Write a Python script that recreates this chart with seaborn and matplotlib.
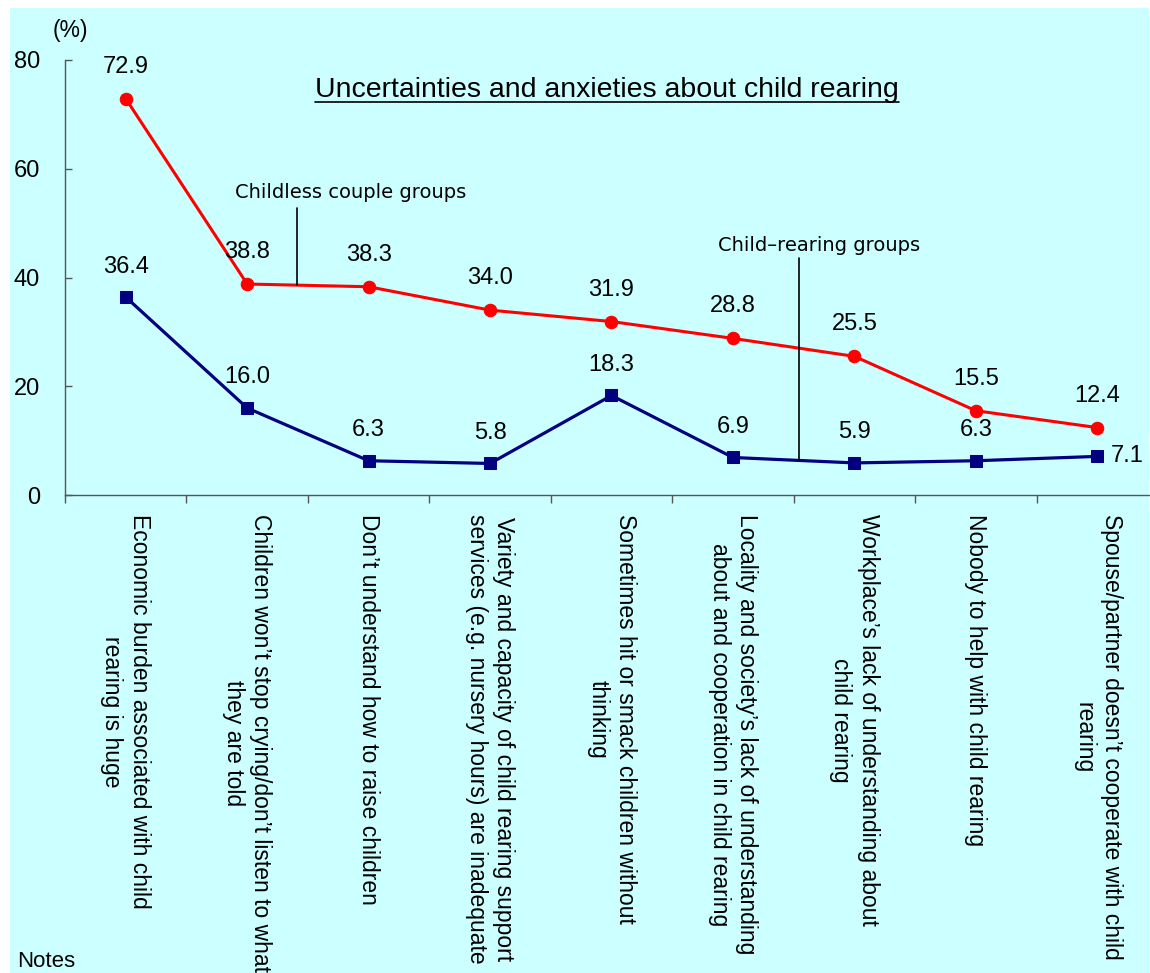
import pandas as pd
import seaborn as sns
import matplotlib.pyplot as plt
from matplotlib.patches import Rectangle
from matplotlib.lines import Line2D
from matplotlib.ticker import FixedLocator

# Data
items = [
    "Economic burden associated with child\nrearing is huge",
    "Children won\u2019t stop crying/don\u2019t listen to what\nthey are told",
    "Don\u2019t understand how to raise children",
    "Variety and capacity of child rearing support\nservices (e.g. nursery hours) are inadequate",
    "Sometimes hit or smack children without\nthinking",
    "Locality and society\u2019s lack of understanding\nabout and cooperation in child rearing",
    "Workplace\u2019s lack of understanding about\nchild rearing",
    "Nobody to help with child rearing",
    "Spouse/partner doesn\u2019t cooperate with child\nrearing",
]
childless = [72.9, 38.8, 38.3, 34.0, 31.9, 28.8, 25.5, 15.5, 12.4]
child_rearing = [36.4, 16.0, 6.3, 5.8, 18.3, 6.9, 5.9, 6.3, 7.1]
y_ticks = [0, 20, 40, 60, 80]

df = pd.DataFrame({"item": items, "childless": childless, "child_rearing": child_rearing})

sns.set_style("white")
plt.rcParams["font.family"] = ["Liberation Sans", "DejaVu Sans"]
plt.rcParams["text.color"] = "black"
plt.rcParams["xtick.color"] = "black"
plt.rcParams["ytick.color"] = "black"

fig = plt.figure(figsize=(11.5, 9.73), dpi=100, facecolor="white")
# cyan chart area
fig.patches.append(Rectangle((10 / 1150, 0), 1139 / 1150, 1 - 8 / 973,
                             transform=fig.transFigure, facecolor="#CCFFFF",
                             edgecolor="none", zorder=-5))

ax = fig.add_axes([65 / 1150, 1 - 495 / 973, 1093 / 1150, 435 / 973])
ax.set_facecolor("none")
ax.set_zorder(2)

sns.lineplot(data=df, x="item", y="childless", color="#FF0000", marker="o",
             markersize=9, markeredgecolor="#FF0000", linewidth=2.2,
             sort=False, legend=False, ax=ax, clip_on=False)
sns.lineplot(data=df, x="item", y="child_rearing", color="#000080", marker="s",
             markersize=8, markeredgecolor="#000080", linewidth=2.3,
             sort=False, legend=False, ax=ax, clip_on=False)

# data labels
for i, v in enumerate(childless):
    ax.annotate(f"{v:.1f}", (i, v), xytext=(0, 23), textcoords="offset points",
                ha="center", va="center", fontsize=17)
for i, v in enumerate(child_rearing):
    if i == len(child_rearing) - 1:
        ax.annotate(f"{v:.1f}", (i, v), xytext=(10, 0), textcoords="offset points",
                    ha="left", va="center", fontsize=17)
    else:
        ax.annotate(f"{v:.1f}", (i, v), xytext=(0, 22), textcoords="offset points",
                    ha="center", va="center", fontsize=17)

ax.set_xlim(-0.5, len(items) - 0.5)
ax.set_ylim(0, 80)
ax.set_yticks(y_ticks)
ax.set_xlabel("")
ax.set_ylabel("")

for s in ["top", "right"]:
    ax.spines[s].set_visible(False)
for s in ["left", "bottom"]:
    ax.spines[s].set_color("#555555")
    ax.spines[s].set_linewidth(1.0)

ax.tick_params(axis="y", direction="in", length=5, width=1, color="#555555",
               labelsize=17, pad=18, left=True)
ax.tick_params(axis="x", which="major", length=0, pad=14)
ax.xaxis.set_minor_locator(FixedLocator([k - 0.5 for k in range(len(items) + 1)]))
ax.tick_params(axis="x", which="minor", direction="out", length=6, width=1,
               color="#555555", bottom=True)
for lab in ax.get_xticklabels():
    lab.set_rotation(270)
    lab.set_ha("center")
    lab.set_va("top")
    lab.set_multialignment("center")
    lab.set_fontsize(16.5)
    lab.set_linespacing(1.25)

# group annotations
ax.plot([1.41, 1.41], [38.6, 52.8], color="black", lw=1.2)
ax.text(1.85, 55.7, "Childless couple groups", ha="center", va="center",
        fontsize=14, family="DejaVu Sans")
ax.plot([5.546, 5.546], [6.4, 43.6], color="black", lw=1.2)
ax.text(5.71, 45.8, "Child\u2013rearing groups", ha="center", va="center",
        fontsize=14, family="DejaVu Sans")

# title with underline
title = fig.text(607 / 1150, 1 - 90 / 973, "Uncertainties and anxieties about child rearing",
                 ha="center", va="center", fontsize=20.5)
fig.text(70 / 1150, 1 - 30 / 973, "(%)", ha="center", va="center", fontsize=16.5)
fig.text(17 / 1150, 1 / 973, "Notes", ha="left", va="bottom", fontsize=16)

fig.canvas.draw()
bb = title.get_window_extent().transformed(fig.transFigure.inverted())
fig.lines.append(Line2D([bb.x0, bb.x1], [bb.y0 + 0.001, bb.y0 + 0.001],
                        transform=fig.transFigure, color="black", lw=1.2))

fig.savefig("out.png", dpi=100, facecolor="white")
